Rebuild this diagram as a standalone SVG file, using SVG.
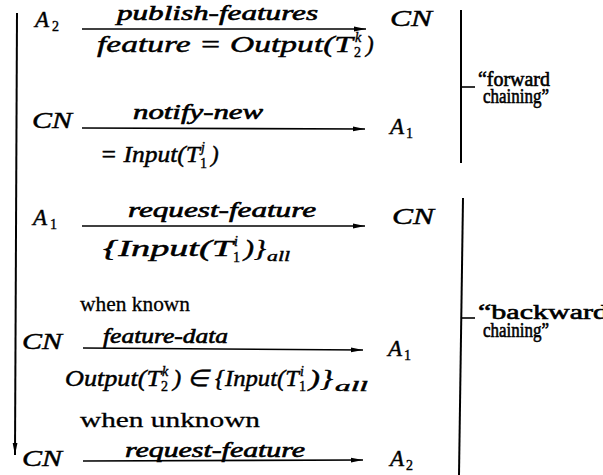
<svg xmlns="http://www.w3.org/2000/svg" width="603" height="475" viewBox="0 0 603 475">
<defs>
<style>
text{font-family:"Liberation Serif","Times New Roman",serif;fill:#000;stroke:#000;stroke-width:0.45}
.m{font-style:italic;font-size:23px}
.lb{font-style:italic;font-size:21px;stroke-width:0.6}
.sb{font-size:14px;stroke-width:0.4}
.si{font-style:italic;font-size:14px;stroke-width:0.4}
.r{font-size:22px;stroke-width:0.3}
.q{font-size:21px;stroke-width:0.6}
.ln{stroke:#000;stroke-width:1.6;fill:none}
.br{stroke:#000;stroke-width:2;fill:none}
</style>
<marker id="ah" markerUnits="userSpaceOnUse" markerWidth="13" markerHeight="8" refX="12" refY="4" orient="auto">
<path d="M0,1.6 L12,4 L0,6.4 z" fill="#000"/>
</marker>
</defs>
<rect width="603" height="475" fill="#fff"/>

<g id="connectors">
<line class="br" x1="17" y1="13" x2="15" y2="455" marker-end="url(#ah)"/>
<line class="ln" x1="82" y1="29" x2="366" y2="29" marker-end="url(#ah)"/>
<line class="ln" x1="82" y1="128" x2="365" y2="129" marker-end="url(#ah)"/>
<line class="ln" x1="82" y1="226" x2="365" y2="226" marker-end="url(#ah)"/>
<line class="ln" x1="83" y1="348" x2="363" y2="350" marker-end="url(#ah)"/>
<line class="ln" x1="83" y1="461" x2="363" y2="460" marker-end="url(#ah)"/>
</g>

<g id="n-a2-top"><text class="m" x="35" y="27">A</text><text class="sb" x="52" y="31">2</text></g>
<g id="n-cn-1"><text class="m" x="390" y="26" textLength="42" lengthAdjust="spacingAndGlyphs">CN</text></g>
<g id="lbl-1">
<text class="lb" x="117" y="20" textLength="201" lengthAdjust="spacingAndGlyphs">publish-features</text>
<text class="m" x="97" y="52" textLength="256" lengthAdjust="spacingAndGlyphs">feature = Output(T</text>
<text class="si" x="355" y="42">k</text><text class="sb" x="354" y="57">2</text>
<text class="m" x="366" y="52">)</text>
</g>

<g id="n-cn-2"><text class="m" x="32" y="128" textLength="40" lengthAdjust="spacingAndGlyphs">CN</text></g>
<g id="n-a1-2"><text class="m" x="390" y="134">A</text><text class="sb" x="406" y="138">1</text></g>
<g id="lbl-2">
<text class="lb" x="133" y="119" textLength="130" lengthAdjust="spacingAndGlyphs">notify-new</text>
<text class="m" x="100" y="162" textLength="100" lengthAdjust="spacingAndGlyphs">= Input(T</text>
<text class="si" x="201" y="152">j</text><text class="sb" x="200" y="168">1</text>
<text class="m" x="211" y="162">)</text>
</g>

<g id="n-a1-3"><text class="m" x="33" y="225">A</text><text class="sb" x="50" y="229">1</text></g>
<g id="n-cn-3"><text class="m" x="392" y="224" textLength="42" lengthAdjust="spacingAndGlyphs">CN</text></g>
<g id="lbl-3">
<text class="lb" x="128" y="217" textLength="188" lengthAdjust="spacingAndGlyphs">request-feature</text>
<text class="m" x="103" y="256" textLength="130" lengthAdjust="spacingAndGlyphs">{Input(T</text>
<text class="si" x="234" y="246">i</text><text class="sb" x="233" y="262">1</text>
<text class="m" x="244" y="256" textLength="22" lengthAdjust="spacingAndGlyphs">)}</text>
<text class="si" x="267" y="261" textLength="23" lengthAdjust="spacingAndGlyphs">all</text>
</g>

<g id="lbl-known"><text class="r" x="80" y="311" textLength="110" lengthAdjust="spacingAndGlyphs">when known</text></g>

<g id="n-cn-4"><text class="m" x="22" y="349" textLength="40" lengthAdjust="spacingAndGlyphs">CN</text></g>
<g id="n-a1-4"><text class="m" x="388" y="356">A</text><text class="sb" x="404" y="360">1</text></g>
<g id="lbl-4">
<text class="lb" x="103" y="343" textLength="125" lengthAdjust="spacingAndGlyphs">feature-data</text>
<text class="m" x="65" y="386" textLength="96" lengthAdjust="spacingAndGlyphs">Output(T</text>
<text class="si" x="162" y="376">k</text><text class="sb" x="161" y="391">2</text>
<text class="m" x="173" y="386" textLength="126" lengthAdjust="spacingAndGlyphs">) ∈ {Input(T</text>
<text class="si" x="300" y="376">i</text><text class="sb" x="299" y="391">1</text>
<text class="m" x="309" y="386" textLength="24" lengthAdjust="spacingAndGlyphs">)}</text>
<text class="si" x="335" y="391" textLength="33" lengthAdjust="spacingAndGlyphs">all</text>
</g>

<g id="lbl-unknown"><text class="r" x="80" y="427" textLength="180" lengthAdjust="spacingAndGlyphs">when unknown</text></g>

<g id="n-cn-5"><text class="m" x="22" y="466" textLength="40" lengthAdjust="spacingAndGlyphs">CN</text></g>
<g id="n-a2-5"><text class="m" x="390" y="466">A</text><text class="sb" x="406" y="470">2</text></g>
<g id="lbl-5"><text class="lb" x="125" y="457" textLength="180" lengthAdjust="spacingAndGlyphs">request-feature</text></g>

<g id="forward">
<line class="br" x1="461" y1="10" x2="461" y2="163"/>
<line class="ln" x1="461" y1="87" x2="475" y2="87"/>
<text class="q" x="478" y="86" textLength="72" lengthAdjust="spacingAndGlyphs">“forward</text>
<text class="q" x="483" y="103" textLength="66" lengthAdjust="spacingAndGlyphs">chaining”</text>
</g>
<g id="backward">
<line class="br" x1="463" y1="198" x2="459" y2="475"/>
<line class="ln" x1="461" y1="318" x2="475" y2="318"/>
<text class="q" x="478" y="319" textLength="130" lengthAdjust="spacingAndGlyphs">“backward</text>
<text class="q" x="483" y="337" textLength="66" lengthAdjust="spacingAndGlyphs">chaining”</text>
</g>
</svg>
